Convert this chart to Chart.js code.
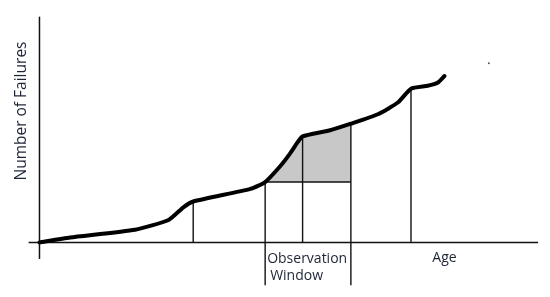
<!DOCTYPE html>
<html>
<head>
<meta charset="utf-8">
<script src="https://cdn.jsdelivr.net/npm/chart.js@4.4.0/dist/chart.umd.min.js"></script>
<style>
  html, body { margin: 0; padding: 0; background: #fff; }
  #failChart { display: block; }
</style>
</head>
<body>
<canvas id="failChart" width="550" height="297"></canvas>
<script>
// cumulative failures vs age
const curveAge = [0, 31, 97, 131, 146, 156, 214, 229, 244, 254, 262, 267, 294, 316, 344, 364, 377, 394, 404, 411];
const curveFailures = [0, 5, 13, 23, 36, 42, 55, 62, 78, 91, 103, 109, 115, 122, 132, 144, 158, 161, 164, 171];

// observation window
const windowStart = 229;
const windowEnd = 316;
const windowBase = 62;
const windowBottom = -44;

// other marker ages
const markerAges = [156, 267, 377];

const axisX = [-11, 506];
const axisY = [-17, 232];
const strayDot = { x: 456, y: 184 };

function failuresAt(age) {
    const i = curveAge.indexOf(age);
    return curveFailures[i];
}

const curvePoints = curveAge.map((a, i) => ({ x: a, y: curveFailures[i] }));
const shadePoints = curvePoints.filter(p => p.x >= windowStart && p.x <= windowEnd);

function segment(x1, y1, x2, y2, width) {
    return {
        data: [{ x: x1, y: y1 }, { x: x2, y: y2 }],
        borderColor: '#111',
        borderWidth: width || 1.4,
        pointRadius: 0,
        fill: false,
        tension: 0
    };
}

const datasets = [];

datasets.push({
    data: curvePoints,
    borderColor: '#000',
    borderWidth: 4,
    pointRadius: 0,
    tension: 0.18,
    fill: false,
    borderCapStyle: 'round',
    borderJoinStyle: 'round'
});

// axes
datasets.push(segment(axisX[0], 0, axisX[1], 0, 1.5));
datasets.push(segment(0, axisY[0], 0, axisY[1], 1.5));

// window lines
datasets.push(segment(windowStart, windowBottom, windowStart, windowBase));
datasets.push(segment(windowEnd, windowBottom, windowEnd, failuresAt(windowEnd)));
datasets.push(segment(windowStart, windowBase, windowEnd, windowBase));

markerAges.forEach(function (a) {
    datasets.push(segment(a, 0, a, failuresAt(a)));
});

datasets.push({
    data: [strayDot],
    showLine: false,
    pointRadius: 1,
    pointBackgroundColor: '#555',
    pointBorderWidth: 0
});

// shaded area
datasets.push({
    data: shadePoints,
    borderWidth: 0,
    borderColor: 'rgba(0,0,0,0)',
    backgroundColor: 'rgb(200,200,200)',
    pointRadius: 0,
    tension: 0.18,
    fill: { value: windowBase }
});

const labelPlugin = {
    id: 'labels',
    afterDraw(chart) {
        const ctx = chart.ctx;
        const xs = chart.scales.x;
        const ys = chart.scales.y;
        ctx.save();
        ctx.fillStyle = '#1c2436';
        ctx.textBaseline = 'middle';

        ctx.font = '14px "Open Sans"';
        ctx.textAlign = 'left';
        ctx.fillText('Observation', xs.getPixelForValue(windowStart) + 2, ys.getPixelForValue(-17));
        ctx.fillText('Window', xs.getPixelForValue(windowStart) + 5, ys.getPixelForValue(-35));

        ctx.textAlign = 'center';
        ctx.fillText('Age', xs.getPixelForValue(411), ys.getPixelForValue(-16));

        ctx.font = '15.5px "Open Sans"';
        ctx.translate(xs.getPixelForValue(-18), ys.getPixelForValue(135));
        ctx.rotate(-Math.PI / 2);
        ctx.fillText('Number of Failures', 0, 0);
        ctx.restore();
    }
};

const ctx = document.getElementById('failChart').getContext('2d');
const failChart = new Chart(ctx, {
    type: 'line',
    data: { datasets: datasets },
    options: {
        responsive: false,
        animation: false,
        layout: { padding: 0 },
        plugins: {
            legend: { display: false },
            tooltip: { enabled: false }
        },
        scales: {
            x: { type: 'linear', min: -36, max: 514, display: false },
            y: { type: 'linear', min: -52, max: 245, display: false }
        }
    },
    plugins: [labelPlugin]
});
</script>
</body>
</html>
